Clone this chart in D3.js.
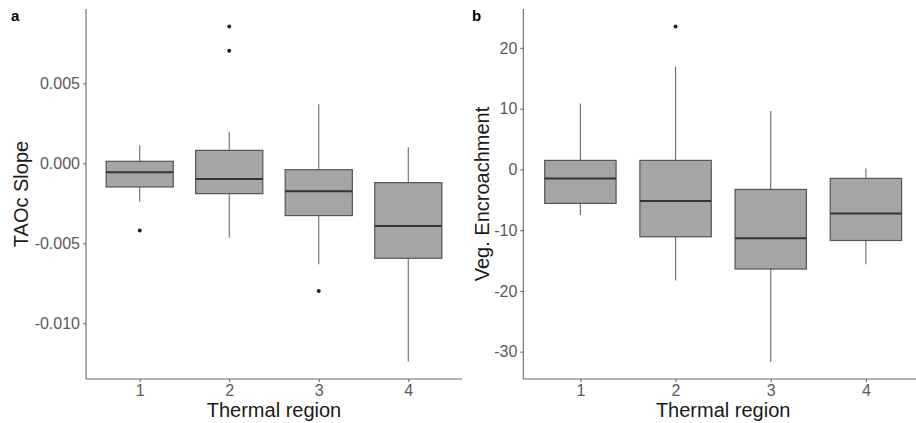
<!DOCTYPE html>
<html><head><meta charset="utf-8">
<script src="https://cdn.jsdelivr.net/npm/d3@7"></script>
<style>body{margin:0;background:#fff}svg{display:block}</style>
</head><body><svg id="c" width="916" height="423"></svg>
<script>
const categories = ["1","2","3","4"];
// Panel a: TAOc Slope
const aWhiskerLow  = [-0.0024, -0.00465, -0.00631, -0.0124];
const aQ1          = [-0.00148, -0.0019, -0.00327, -0.00594];
const aMedian      = [-0.00056, -0.00098, -0.00175, -0.00392];
const aQ3          = [0.000125, 0.00081, -0.0004, -0.00121];
const aWhiskerHigh = [0.001125, 0.00198, 0.00369, 0.001];
const aOutliers    = [[-0.0042], [0.00856, 0.00704], [-0.00798], []];
const aTicks = [0.005, 0, -0.005, -0.010];
const aTickLabels = ["0.005", "0.000", "-0.005", "-0.010"];
// Panel b: Veg. Encroachment
const bWhiskerLow  = [-7.5, -18.3, -31.7, -15.6];
const bQ1          = [-5.6, -11.1, -16.4, -11.7];
const bMedian      = [-1.48, -5.2, -11.35, -7.24];
const bQ3          = [1.48, 1.48, -3.3, -1.48];
const bWhiskerHigh = [10.86, 16.9, 9.6, 0.16];
const bOutliers    = [[], [23.5], [], []];
const bTicks = [20, 10, 0, -10, -20, -30];
const bTickLabels = ["20", "10", "0", "-10", "-20", "-30"];

const svg = d3.select("#c");
const font = "Liberation Sans, Arial, sans-serif";

function panel(opt){
  const g = svg.append("g");
  const x = d3.scalePoint().domain(categories).range([opt.x0, opt.x1]).padding(0.6);
  const y = d3.scaleLinear().domain(opt.ydom).range([379, 9]);
  const bw = x.step()*0.75;
  const rows = categories.map((c,i)=>({c, lo:opt.wl[i], q1:opt.q1[i], med:opt.med[i], q3:opt.q3[i], hi:opt.wh[i], out:opt.out[i]}));
  const b = g.selectAll("g.box").data(rows).join("g").attr("class","box");
  b.append("line").attr("x1",d=>x(d.c)).attr("x2",d=>x(d.c)).attr("y1",d=>y(d.hi)).attr("y2",d=>y(d.q3)).attr("stroke","#6a6a6a").attr("stroke-width",1.1);
  b.append("line").attr("x1",d=>x(d.c)).attr("x2",d=>x(d.c)).attr("y1",d=>y(d.q1)).attr("y2",d=>y(d.lo)).attr("stroke","#6a6a6a").attr("stroke-width",1.1);
  b.append("rect").attr("x",d=>x(d.c)-bw/2).attr("width",bw).attr("y",d=>y(d.q3)).attr("height",d=>y(d.q1)-y(d.q3))
    .attr("fill","#a5a5a5").attr("stroke","#555").attr("stroke-width",1.2);
  b.append("line").attr("x1",d=>x(d.c)-bw/2).attr("x2",d=>x(d.c)+bw/2).attr("y1",d=>y(d.med)).attr("y2",d=>y(d.med)).attr("stroke","#333").attr("stroke-width",2);
  b.selectAll("circle").data(d=>d.out.map(v=>({c:d.c,v}))).join("circle").attr("cx",d=>x(d.c)).attr("cy",d=>y(d.v)).attr("r",2).attr("fill","#222");

  const ya = g.append("g").attr("transform",`translate(${opt.x0},0)`)
    .call(d3.axisLeft(y).tickValues(opt.ticks).tickFormat((d,i)=>opt.tickLabels[i]).tickSize(3).tickPadding(3));
  ya.select(".domain").attr("d",`M0,9V379`);
  const xa = g.append("g").attr("transform","translate(0,379)")
    .call(d3.axisBottom(x).tickSize(3).tickPadding(3));
  xa.select(".domain").attr("d",`M${opt.x0},0H${opt.x1}`);
  [ya,xa].forEach(a=>{
    a.selectAll(".domain,.tick line").attr("stroke","#666").attr("stroke-width",1.1);
    a.selectAll("text").attr("fill","#5a5a5a").style("font-family",font).style("font-size","16px");
  });
  g.append("text").attr("x",(opt.x0+opt.x1)/2).attr("y",417).attr("text-anchor","middle")
    .style("font-family",font).style("font-size","20px").attr("fill","#1a1a1a").text("Thermal region");
  g.append("text").attr("transform",`translate(${opt.tx},194) rotate(-90)`).attr("text-anchor","middle")
    .style("font-family",font).style("font-size","20px").attr("fill","#1a1a1a").text(opt.title);
  g.append("text").attr("x",opt.lx).attr("y",21).style("font-family",font).style("font-size","15px").style("font-weight","bold").attr("fill","#000").text(opt.letter);
}

panel({x0:86, x1:462, ydom:[-0.01349, 0.00965], wl:aWhiskerLow, q1:aQ1, med:aMedian, q3:aQ3, wh:aWhiskerHigh, out:aOutliers,
  ticks:aTicks, tickLabels:aTickLabels, title:"TAOc Slope", tx:28, lx:11, letter:"a"});
panel({x0:523.3, x1:923, ydom:[-34.5, 26.4], wl:bWhiskerLow, q1:bQ1, med:bMedian, q3:bQ3, wh:bWhiskerHigh, out:bOutliers,
  ticks:bTicks, tickLabels:bTickLabels, title:"Veg. Encroachment", tx:489, lx:472, letter:"b"});
</script></body></html>
